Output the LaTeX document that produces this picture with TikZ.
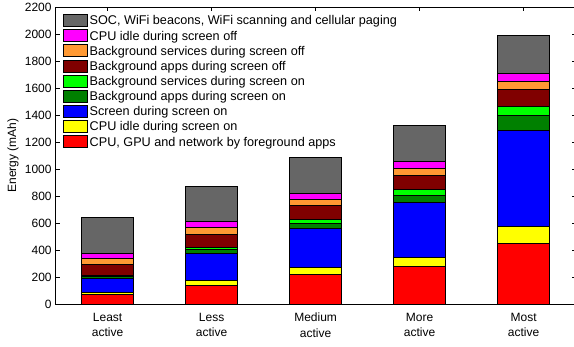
\documentclass[tikz,border=0pt]{standalone}
\usepackage{fontspec}
\setmainfont{Liberation Sans}
\definecolor{cgrey}{RGB}{102,102,102}
\definecolor{cmag}{RGB}{255,0,255}
\definecolor{corange}{RGB}{255,153,51}
\definecolor{cdkred}{RGB}{128,0,0}
\definecolor{cgreen}{RGB}{0,255,0}
\definecolor{cdkgreen}{RGB}{0,128,0}
\definecolor{cblue}{RGB}{0,0,255}
\definecolor{cyellow}{RGB}{255,255,0}
\definecolor{cred}{RGB}{255,0,0}
\tikzset{
  barseg/.style={draw=black, line width=0.8pt},
  swatch/.style={draw=black, line width=0.8pt},
  axisline/.style={draw=black, line width=0.8pt},
  ticklab/.style={anchor=east, inner sep=0pt, font=\fontsize{12}{14}\selectfont},
  catlab/.style={anchor=north, inner sep=0pt, align=center, font=\fontsize{12}{15.6}\selectfont},
  legtext/.style={anchor=base west, inner sep=0pt, font=\fontsize{12.65}{14}\selectfont}
}
\begin{document}
\begin{tikzpicture}[x=1pt,y=1pt]
\useasboundingbox (0,0) rectangle (574,347);
\begin{scope}[shift={(3.6,43)}, x=104pt, y=0.135pt]
  % stacked bars
  \foreach \i/\a/\b/\c in {
    1/0/70/cred, 1/70/88/cyellow, 1/88/190/cblue, 1/190/205/cdkgreen, 1/205/213/cgreen, 1/213/295/cdkred, 1/295/338/corange, 1/338/375/cmag, 1/375/638/cgrey,
    2/0/141/cred, 2/141/175/cyellow, 2/175/378/cblue, 2/378/405/cdkgreen, 2/405/420/cgreen, 2/420/518/cdkred, 2/518/565/corange, 2/565/610/cmag, 2/610/874/cgrey,
    3/0/220/cred, 3/220/270/cyellow, 3/270/560/cblue, 3/560/600/cdkgreen, 3/600/627/cgreen, 3/627/727/cdkred, 3/727/772/corange, 3/772/819/cmag, 3/819/1087/cgrey,
    4/0/275/cred, 4/275/347/cyellow, 4/347/754/cblue, 4/754/808/cdkgreen, 4/808/851/cgreen, 4/851/954/cdkred, 4/954/1006/corange, 4/1006/1055/cmag, 4/1055/1325/cgrey,
    5/0/450/cred, 5/450/573/cyellow, 5/573/1284/cblue, 5/1284/1395/cdkgreen, 5/1395/1464/cgreen, 5/1464/1593/cdkred, 5/1593/1650/corange, 5/1650/1709/cmag, 5/1709/1993/cgrey}
    \filldraw[barseg, fill=\c] (\i-0.25,\a) rectangle (\i+0.25,\b);
  % axes frame
  \draw[axisline] (0.5,0) rectangle (5.5,2200);
  % y ticks and labels
  \foreach \v in {0,200,...,2200} {
    \draw[axisline] (0.5,\v) -- ++(4pt,0);
    \draw[axisline] (5.5,\v) -- ++(-4pt,0);
    \node[ticklab] (yt\v) at ([xshift=-3.8pt]0.5,\v) {\v};
  }
  % x ticks (top) and category labels
  \foreach \i/\t in {1/{Least\\active}, 2/{Less\\active}, 3/{Medium\\active}, 4/{More\\active}, 5/{Most\\active}} {
    \draw[axisline] (\i,2200) -- ++(0,-4pt);
    \node[catlab] (cat\i) at ([yshift=-8.6pt]\i,0) {\t};
  }
\end{scope}
% y label
\node[rotate=90, inner sep=0pt, font=\fontsize{12}{14}\selectfont] (ylab) at (13,191.5) {Energy (mAh)};
% legend
\foreach \k/\c/\t in {
  1/cgrey/{SOC, WiFi beacons, WiFi scanning and cellular paging},
  2/cmag/{CPU idle during screen off},
  3/corange/{Background services during screen off},
  4/cdkred/{Background apps during screen off},
  5/cgreen/{Background services during screen on},
  6/cdkgreen/{Background apps during screen on},
  7/cblue/{Screen during screen on},
  8/cyellow/{CPU idle during screen on},
  9/cred/{CPU, GPU and network by foreground apps}} {
  \pgfmathsetmacro\yc{347-20.6-15.14*(\k-1)}
  \filldraw[swatch, fill=\c] (63,\yc-6) rectangle (87,\yc+6);
  \node[legtext] (leg\k) at (89.5,\yc-4.4) {\t};
}
\end{tikzpicture}
\end{document}
